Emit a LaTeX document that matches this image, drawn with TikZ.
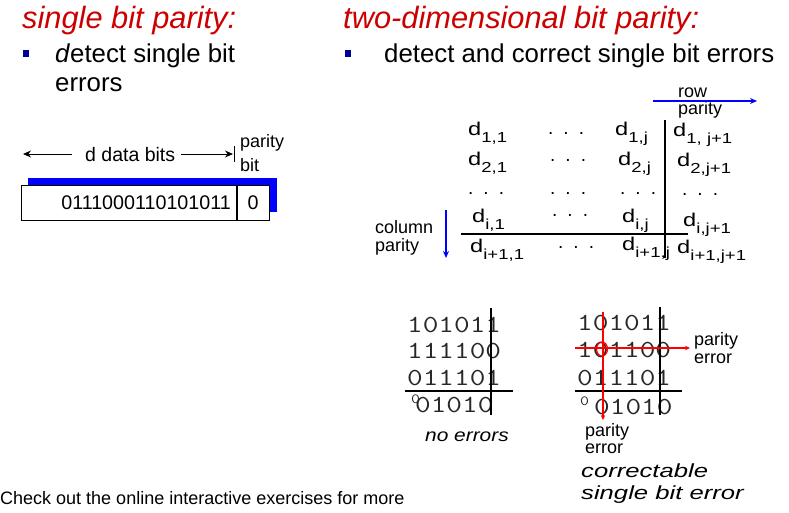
\documentclass[tikz,border=0pt]{standalone}
\usepackage{fontspec}
\setmainfont{Liberation Sans}
\usetikzlibrary{arrows.meta}
\definecolor{titlered}{RGB}{204,0,0}
\definecolor{bulletblue}{RGB}{0,0,153}
\definecolor{pureblue}{RGB}{0,0,255}
\definecolor{purered}{RGB}{255,0,0}
\definecolor{bitgray}{RGB}{40,40,40}
\newcommand{\fs}[1]{\fontsize{#1}{#1}\selectfont}
\newcommand{\dsub}[1]{\scalebox{1.28}[1]{d\raisebox{-7pt}{\fs{14.5}#1}}}
\newcommand{\tdots}{.\hspace{10pt}.\hspace{10pt}.}
\newcommand{\bits}[1]{\scalebox{1.24}[1]{#1}}
\begin{document}
\begin{tikzpicture}[x=1pt,y=-1pt,
  txt/.style={inner sep=0pt, anchor=base west},
  titletext/.style={txt, text=titlered, font=\fs{30.8}\itshape},
  bultext/.style={txt, font=\fs{25.8}},
  smalltext/.style={txt, font=\fs{18}},
  dent/.style={txt, font=\fs{18.5}},
  dotsrow/.style={txt, font=\fs{19}},
  bitrow/.style={txt, text=bitgray, font=\ttfamily\fs{24.5}},
  bitsmall/.style={txt, text=bitgray, font=\ttfamily\fs{14}},
  bulletsq/.style={fill=bulletblue, inner sep=0pt, minimum size=6.6pt},
  itlabel/.style={txt, font=\fs{18}\itshape},
  blackarrow/.style={line width=1pt, -{Stealth[length=8pt,width=7pt]}},
  bluearrow/.style={pureblue, line width=1.2pt, -{Stealth[length=7pt,width=6pt]}},
  redarrow/.style={purered, line width=1.2pt, -{Stealth[length=5pt,width=4.5pt]}},
  gridline/.style={line width=1.8pt},
]
\useasboundingbox (0,0) rectangle (789,512);

% ---------- left: single bit parity ----------
\node[titletext] (t1) at (22,28) {single bit parity:};
\node[bulletsq] (b1) at (26,53.3) {};
\node[bultext] (l1) at (55,62) {\textit{d}etect single bit};
\node[bultext] (l2) at (55,91) {errors};

\coordinate (dl) at (23,154);
\coordinate (dl2) at (72,154);
\coordinate (dr1) at (181,154);
\coordinate (dr) at (233,154);
\draw[blackarrow] (dl2) -- (dl);
\draw[blackarrow] (dr1) -- (dr);
\coordinate (bart) at (234.5,146);
\coordinate (barb) at (234.5,162);
\draw[line width=1pt] (bart) -- (barb);
\node[txt, font=\fs{19.5}] (ddb) at (85,161) {d data bits};
\node[smalltext] (pb1) at (240,147) {parity};
\node[smalltext] (pb2) at (240,171) {bit};

\fill[pureblue] (28,178) rectangle (277,212);
\node[draw, fill=white, line width=1.2pt, minimum width=248pt, minimum height=35pt,
      inner sep=0pt, anchor=north west] (frame) at (21,185) {};
\coordinate (divt) at (237,185);
\coordinate (divb) at (237,220);
\draw[line width=1.2pt] (divt) -- (divb);
\node[inner sep=0pt, anchor=east, font=\fs{19.7}] (bitsdata) at (231,203) {0111000110101011};
\node[inner sep=0pt, font=\fs{19.7}] (bitpar) at (253,203) {0};

% ---------- right: two-dimensional parity ----------
\node[titletext] (t2) at (343,28) {two-dimensional bit parity:};
\node[bulletsq] (b2) at (348,53.3) {};
\node[bultext] (r1) at (384,62) {detect and correct single bit errors};

\node[smalltext] (rowl1) at (678,97) {row};
\node[smalltext] (rowl2) at (678,114) {parity};
\coordinate (ra1) at (653,101);
\coordinate (ra2) at (757,101);
\draw[bluearrow] (ra1) -- (ra2);

\node[smalltext] (coll1) at (375,233) {column};
\node[smalltext] (coll2) at (375,251) {parity};
\coordinate (ca1) at (446,210);
\coordinate (ca2) at (446,258);
\draw[bluearrow] (ca1) -- (ca2);

\coordinate (vt) at (665,120);
\coordinate (vb) at (665,258);
\draw[gridline] (vt) -- (vb);
\coordinate (hl) at (461,234);
\coordinate (hr) at (688,234);
\draw[gridline] (hl) -- (hr);

% row 1
\node[dent] (d11) at (468,135) {\dsub{1,1}};
\node[dotsrow] (dd1) at (548,134) {\tdots};
\node[dent] (d1j) at (615,135) {\dsub{1,j}};
\node[dent] (d1p) at (673,136) {\dsub{1, j+1}};
% row 2
\node[dent] (d21) at (468,165) {\dsub{2,1}};
\node[dotsrow] (dd2) at (550,161) {\tdots};
\node[dent] (d2j) at (618,165) {\dsub{2,j}};
\node[dent] (d2p) at (677,166) {\dsub{2,j+1}};
% row 3
\node[dotsrow] (e31) at (468,194) {\tdots};
\node[dotsrow] (e32) at (550,194) {\tdots};
\node[dotsrow] (e33) at (620,194) {\tdots};
\node[dotsrow] (e34) at (682,195) {\tdots};
% row 4
\node[dent] (di1) at (472,222) {\dsub{i,1}};
\node[dotsrow] (dd4) at (552,216) {\tdots};
\node[dent] (dij) at (622,222) {\dsub{i,j}};
\node[dent] (dip) at (683,226) {\dsub{i,j+1}};
% row 5
\node[dent] (dn1) at (470,252) {\dsub{i+1,1}};
\node[dotsrow] (dd5) at (558,248) {\tdots};
\node[dent] (dnj) at (622,250) {\dsub{i+1,j}};
\node[dent] (dnp) at (677,253) {\dsub{i+1,j+1}};

% ---------- bit matrix: no errors ----------
\node[bitrow] (a1) at (407,332) {\bits{101011}};
\node[bitrow] (a2) at (407,358) {\bits{111100}};
\node[bitrow] (a3) at (407,385) {\bits{011101}};
\node[bitsmall] (a4s) at (411,403) {\bits{0}};
\node[bitrow] (a4) at (415,412) {\bits{01010}};
\coordinate (ah1) at (405,391);
\coordinate (ah2) at (513,391);
\draw[gridline] (ah1) -- (ah2);
\coordinate (av1) at (491,308);
\coordinate (av2) at (491,415);
\draw[gridline] (av1) -- (av2);
\node[itlabel] (noerr) at (425,441) {\scalebox{1.16}[1]{no errors}};

% ---------- bit matrix: single error ----------
\node[bitrow] (c1) at (577,330) {\bits{101011}};
\node[bitrow] (c2) at (577,357) {\bits{101100}};
\node[bitrow] (c3) at (577,385) {\bits{011101}};
\node[bitsmall] (c4s) at (580,405) {\bits{0}};
\node[bitrow] (c4) at (594,414) {\bits{01010}};
\coordinate (ch1) at (575,391);
\coordinate (ch2) at (682,391);
\draw[gridline] (ch1) -- (ch2);
\coordinate (cv1) at (660,307);
\coordinate (cv2) at (660,415);
\draw[gridline] (cv1) -- (cv2);

\coordinate (rh1) at (575,348);
\coordinate (rh2) at (690,348);
\draw[redarrow] (rh1) -- (rh2);
\coordinate (rv1) at (603,312);
\coordinate (rv2) at (603,420);
\draw[redarrow] (rv1) -- (rv2);
\draw[purered, line width=1.2pt] (602,349) ellipse [x radius=5.5, y radius=7];

\node[smalltext] (pe1) at (694,345) {parity};
\node[smalltext] (pe2) at (694,363) {error};
\node[smalltext] (pe3) at (585,436) {parity};
\node[smalltext] (pe4) at (585,453) {error};
\node[itlabel, font=\fs{19}\itshape] (corr1) at (581,477) {\scalebox{1.35}[1]{correctable}};
\node[itlabel, font=\fs{19}\itshape] (corr2) at (581,499) {\scalebox{1.35}[1]{single bit error}};

% ---------- footer ----------
\node[txt, font=\fs{18}] (foot) at (0,504) {Check out the online interactive exercises for more};
\end{tikzpicture}
\end{document}
